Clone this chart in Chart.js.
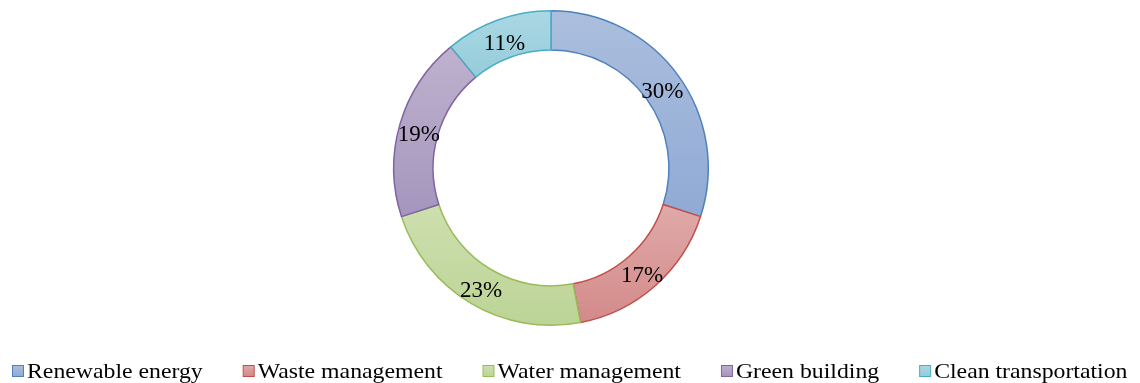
<!DOCTYPE html>
<html>
<head>
<meta charset="utf-8">
<script src="https://cdn.jsdelivr.net/npm/chart.js@4/dist/chart.umd.min.js"></script>
<style>
  html, body { margin: 0; padding: 0; background: #fff; }
  #wrap { width: 1140px; height: 383px; }
</style>
</head>
<body>
<div id="wrap"><canvas id="myChart"></canvas></div>
<script>
// Share of funds by sector
const categories = ['Renewable energy', 'Waste management', 'Water management', 'Green building', 'Clean transportation'];
const shares = [30, 17, 23, 19, 11];

// Office-style fills: lighter at the top of each segment, darker at the bottom
const fillTop = ['#ABBEDD', '#DFAAA9', '#CDDFAF', '#BEB2CE', '#AAD8E4'];
const fillBottom = ['#90AAD5', '#D38A89', '#BCD496', '#A595BD', '#96CCDA'];
const borderColors = ['#4F81BD', '#C0504D', '#9BBB59', '#8064A2', '#4BACC6'];

const serif = '"Liberation Serif", "Times New Roman", serif';
const CUTOUT = 0.75;

// Build a vertical gradient spanning the y-range of one segment
function segmentFill(context) {
  const i = context.dataIndex;
  const chart = context.chart;
  const area = chart.chartArea;
  if (!area) return fillBottom[i];
  const cx = (area.left + area.right) / 2;
  const cy = (area.top + area.bottom) / 2;
  const r = Math.min(area.width, area.height) / 2;
  const total = shares.reduce((a, b) => a + b, 0);
  let before = 0;
  for (let k = 0; k < i; k++) before += shares[k];
  const a0 = -Math.PI / 2 + before / total * Math.PI * 2;
  const a1 = a0 + shares[i] / total * Math.PI * 2;
  let yMin = Infinity, yMax = -Infinity;
  for (let s = 0; s <= 60; s++) {
    const a = a0 + (a1 - a0) * s / 60;
    [r, r * CUTOUT].forEach(rad => {
      const y = cy + rad * Math.sin(a);
      yMin = Math.min(yMin, y);
      yMax = Math.max(yMax, y);
    });
  }
  const g = chart.ctx.createLinearGradient(0, yMin, 0, yMax);
  g.addColorStop(0, fillTop[i]);
  g.addColorStop(1, fillBottom[i]);
  return g;
}

// Percent labels centred in the ring of each segment
const percentLabels = {
  id: 'percentLabels',
  afterDatasetsDraw(chart) {
    const ctx = chart.ctx;
    const meta = chart.getDatasetMeta(0);
    ctx.save();
    ctx.font = '23px ' + serif;
    ctx.fillStyle = '#000';
    ctx.textAlign = 'center';
    ctx.textBaseline = 'middle';
    meta.data.forEach((arc, i) => {
      const p = arc.getProps(['x', 'y', 'startAngle', 'endAngle', 'innerRadius', 'outerRadius'], true);
      const mid = (p.startAngle + p.endAngle) / 2;
      const rad = (p.innerRadius + p.outerRadius) / 2;
      ctx.fillText(shares[i] + '%', p.x + Math.cos(mid) * rad, p.y + Math.sin(mid) * rad + 5);
    });
    ctx.restore();
  }
};

// Single-row legend along the bottom edge (text slightly widened)
const bottomLegend = {
  id: 'bottomLegend',
  afterDraw(chart) {
    const ctx = chart.ctx;
    const box = 11, textGap = 4, itemGap = 40, stretch = 1.08;
    const boxTop = 365, baseline = 378;
    ctx.save();
    ctx.font = '22px ' + serif;
    const widths = categories.map(c => ctx.measureText(c).width * stretch);
    const total = widths.reduce((a, w) => a + box + textGap + w, 0) + itemGap * (categories.length - 1);
    let x = Math.round(570 - total / 2);
    categories.forEach((label, i) => {
      const g = ctx.createLinearGradient(0, boxTop, 0, boxTop + box);
      g.addColorStop(0, fillTop[i]);
      g.addColorStop(1, fillBottom[i]);
      ctx.fillStyle = g;
      ctx.fillRect(x + 0.5, boxTop + 0.5, box, box);
      ctx.strokeStyle = borderColors[i];
      ctx.lineWidth = 1;
      ctx.strokeRect(x + 0.5, boxTop + 0.5, box, box);
      ctx.save();
      ctx.translate(x + box + textGap, baseline);
      ctx.scale(stretch, 1);
      ctx.fillStyle = '#000';
      ctx.textBaseline = 'alphabetic';
      ctx.textAlign = 'left';
      ctx.fillText(label, 0, 0);
      ctx.restore();
      x += box + textGap + widths[i] + itemGap;
    });
    ctx.restore();
  }
};

const ctx = document.getElementById('myChart').getContext('2d');
const chart = new Chart(ctx, {
  type: 'doughnut',
  data: {
    labels: categories,
    datasets: [{
      data: shares,
      backgroundColor: segmentFill,
      borderColor: borderColors,
      borderWidth: 1.5
    }]
  },
  options: {
    responsive: true,
    maintainAspectRatio: false,
    animation: false,
    cutout: (CUTOUT * 100) + '%',
    layout: { padding: { top: 10, bottom: 57, left: 0, right: 38 } },
    plugins: {
      legend: { display: false },
      tooltip: { enabled: false }
    }
  },
  plugins: [percentLabels, bottomLegend]
});
</script>
</body>
</html>
